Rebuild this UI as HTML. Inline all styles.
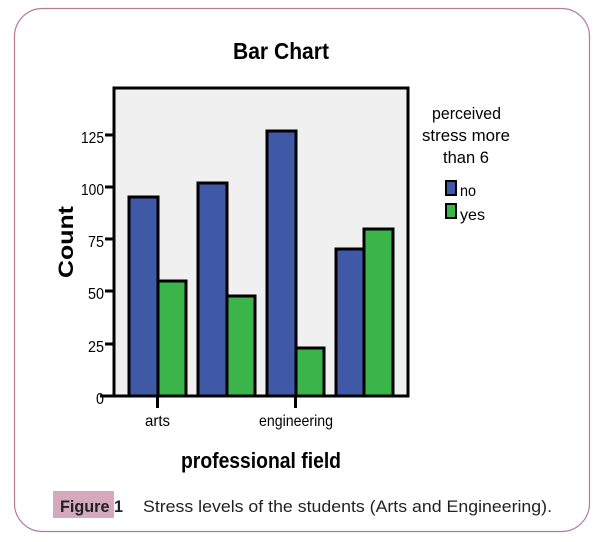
<!DOCTYPE html>
<html><head><meta charset="utf-8"><style>
html,body{margin:0;padding:0;background:#fff;width:602px;height:542px;overflow:hidden}
</style></head><body>
<svg width="602" height="542" viewBox="0 0 602 542" xmlns="http://www.w3.org/2000/svg" font-family="Liberation Sans, Arial, sans-serif">
<rect x="14.5" y="8.5" width="575" height="523" rx="28" ry="28" fill="#fff" stroke="#b87a9a" stroke-width="1.2"/>
<text x="233" y="59" font-size="23" font-weight="bold" textLength="96" lengthAdjust="spacingAndGlyphs">Bar Chart</text>
<rect x="114" y="88" width="294" height="308" fill="#f0f0f0" stroke="#000" stroke-width="3"/>
<g stroke="#000" stroke-width="3">
<rect x="129" y="197" width="29" height="199" fill="#3f59a6"/>
<rect x="158" y="281" width="28" height="115" fill="#3bb44a"/>
<rect x="198" y="183" width="29" height="213" fill="#3f59a6"/>
<rect x="227" y="296" width="28" height="100" fill="#3bb44a"/>
<rect x="267" y="131" width="29" height="265" fill="#3f59a6"/>
<rect x="296" y="348" width="28" height="48" fill="#3bb44a"/>
<rect x="336" y="249" width="28" height="147" fill="#3f59a6"/>
<rect x="364" y="229" width="29" height="167" fill="#3bb44a"/>
<line x1="113" y1="396" x2="409" y2="396"/>
<line x1="100" y1="396" x2="114" y2="396"/>
<line x1="105" y1="344" x2="114" y2="344"/>
<line x1="105" y1="291" x2="114" y2="291"/>
<line x1="105" y1="239" x2="114" y2="239"/>
<line x1="105" y1="187" x2="114" y2="187"/>
<line x1="105" y1="135" x2="114" y2="135"/>
<line x1="157.5" y1="396" x2="157.5" y2="408"/>
<line x1="295.5" y1="396" x2="295.5" y2="408"/>
</g>
<g font-size="16" fill="#000">
<text x="96" y="404" textLength="8" lengthAdjust="spacingAndGlyphs">0</text>
<text x="88" y="352" textLength="16" lengthAdjust="spacingAndGlyphs">25</text>
<text x="88" y="299" textLength="16" lengthAdjust="spacingAndGlyphs">50</text>
<text x="88" y="247" textLength="16" lengthAdjust="spacingAndGlyphs">75</text>
<text x="81" y="195" textLength="23" lengthAdjust="spacingAndGlyphs">100</text>
<text x="81" y="143" textLength="23" lengthAdjust="spacingAndGlyphs">125</text>
</g>
<g font-size="16">
<text x="145" y="426" textLength="25" lengthAdjust="spacingAndGlyphs">arts</text>
<text x="259" y="426" textLength="74" lengthAdjust="spacingAndGlyphs">engineering</text>
</g>
<text x="73" y="242" font-size="21" font-weight="bold" text-anchor="middle" transform="rotate(-90,73,242)" textLength="72" lengthAdjust="spacingAndGlyphs">Count</text>
<text x="181" y="468" font-size="22" font-weight="bold" textLength="160" lengthAdjust="spacingAndGlyphs">professional field</text>
<g font-size="17">
<text x="432" y="119" textLength="69" lengthAdjust="spacingAndGlyphs">perceived</text>
<text x="422" y="141" textLength="88" lengthAdjust="spacingAndGlyphs">stress more</text>
<text x="443" y="163" textLength="46" lengthAdjust="spacingAndGlyphs">than 6</text>
</g>
<rect x="446" y="181" width="10" height="14" fill="#3f59a6" stroke="#000" stroke-width="2"/>
<rect x="446" y="204" width="10" height="14" fill="#3bb44a" stroke="#000" stroke-width="2"/>
<text x="460" y="196" font-size="16" textLength="16" lengthAdjust="spacingAndGlyphs">no</text>
<text x="460" y="220" font-size="16" textLength="25" lengthAdjust="spacingAndGlyphs">yes</text>
<rect x="53" y="491" width="61" height="27" fill="#d4a8bd"/>
<text x="60" y="512" font-size="17" font-weight="bold" fill="#222" textLength="63" lengthAdjust="spacingAndGlyphs">Figure 1</text>
<text x="143" y="512" font-size="17" fill="#222" textLength="409" lengthAdjust="spacingAndGlyphs">Stress levels of the students (Arts and Engineering).</text>
</svg>
</body></html>
